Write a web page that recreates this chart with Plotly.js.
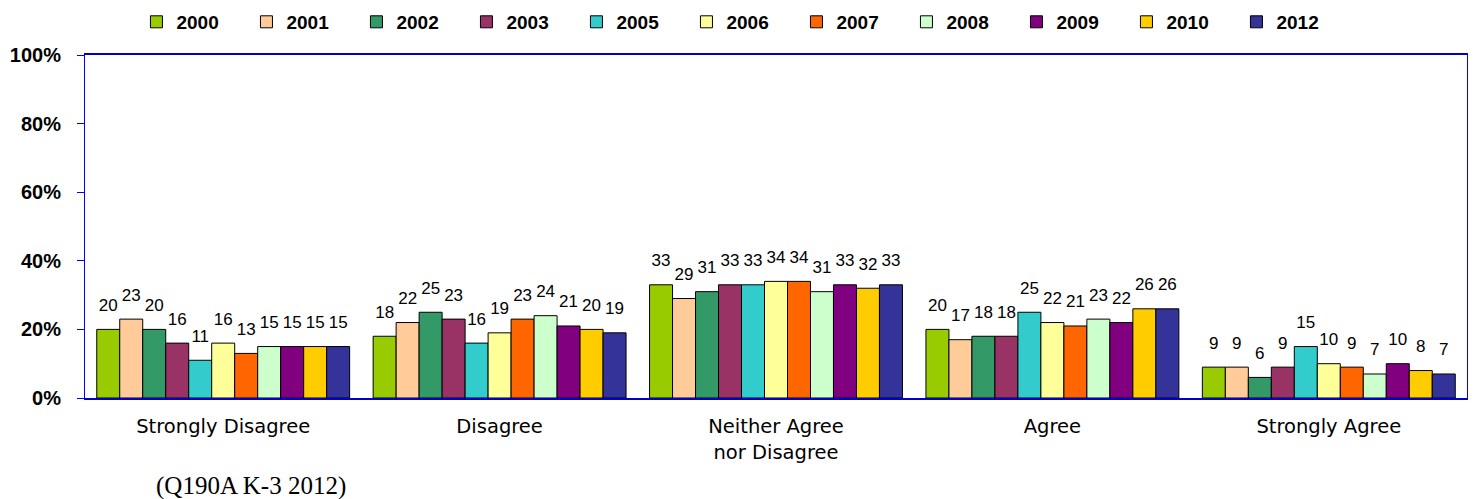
<!DOCTYPE html>
<html>
<head>
<meta charset="utf-8">
<script src="https://cdn.plot.ly/plotly-3.0.1.min.js"></script>
<style>html,body{margin:0;padding:0;background:#fff;}#chart{width:1478px;height:499px;}</style>
</head>
<body>
<div id="chart"></div>
<script>
const categories = ["Strongly Disagree", "Disagree", "Neither Agree<br>nor Disagree", "Agree", "Strongly Agree"];
const years = ["2000", "2001", "2002", "2003", "2005", "2006", "2007", "2008", "2009", "2010", "2012"];
const v2000 = [20, 18, 33, 20, 9];
const v2001 = [23, 22, 29, 17, 9];
const v2002 = [20, 25, 31, 18, 6];
const v2003 = [16, 23, 33, 18, 9];
const v2005 = [11, 16, 33, 25, 15];
const v2006 = [16, 19, 34, 22, 10];
const v2007 = [13, 23, 34, 21, 9];
const v2008 = [15, 24, 31, 23, 7];
const v2009 = [15, 21, 33, 22, 10];
const v2010 = [15, 20, 32, 26, 8];
const v2012 = [15, 19, 33, 26, 7];
const series = [v2000, v2001, v2002, v2003, v2005, v2006, v2007, v2008, v2009, v2010, v2012];
const colors = ["#99cc00", "#ffcc99", "#339966", "#993366", "#33cccc", "#ffff99", "#ff6600", "#ccffcc", "#800080", "#ffcc00", "#333399"];
const yTickVals = [0, 20, 40, 60, 80, 100];
const yTickText = ["0%", "20%", "40%", "60%", "80%", "100%"];

const traces = series.map((vals, i) => ({
  type: "bar",
  name: years[i],
  x: categories,
  y: vals,
  text: vals.map(v => "<span style='font-size:17px'>" + v + "</span><br><span style='font-size:1px'> </span>"),
  textposition: "outside",
  constraintext: "none",
  cliponaxis: false,
  textfont: {family: "Liberation Sans Narrow, Arial Narrow, sans-serif", size: 12, color: "#000"},
  marker: {color: colors[i], line: {color: "#000", width: 1}},
  hoverinfo: "none"
}));

const layout = {
  width: 1478, height: 499,
  margin: {l: 85, r: 11, t: 55, b: 101},
  paper_bgcolor: "#fff", plot_bgcolor: "#fff",
  barmode: "group", bargap: 0.085, bargroupgap: 0,
  showlegend: true,
  legend: {orientation: "h", x: 0.475, xanchor: "center", y: 0.956, yanchor: "middle",
    yref: "container", font: {family: "Liberation Sans, Arial, sans-serif", size: 19, color: "#000", weight: "bold"},
    entrywidth: 65, entrywidthmode: "pixels", itemwidth: 30, traceorder: "normal"},
  xaxis: {showline: true, linecolor: "#0000cc", linewidth: 2, mirror: true, ticks: "",
    ticklabelstandoff: 10,
    tickfont: {family: "DejaVu Sans, Verdana, sans-serif", size: 19.5, color: "#000"},
    showgrid: false, zeroline: false},
  yaxis: {range: [0, 100], tickmode: "array", tickvals: yTickVals, ticktext: yTickText,
    showline: true, linecolor: "#0000ff", linewidth: 1, mirror: true, ticks: "outside", ticklen: 7, tickcolor: "#0000ff",
    ticklabelstandoff: 12,
    tickfont: {family: "Liberation Sans, Arial, sans-serif", size: 20, color: "#000", weight: "bold"},
    showgrid: false, zeroline: false},
  annotations: [{text: "(Q190A K-3 2012)", xref: "paper", yref: "paper", x: 0.05, y: -0.257,
    xanchor: "left", yanchor: "middle", showarrow: false,
    font: {family: "Liberation Serif, Times New Roman, serif", size: 25, color: "#000"}}]
};

Plotly.newPlot("chart", traces, layout, {displayModeBar: false, staticPlot: true});
</script>
</body>
</html>
